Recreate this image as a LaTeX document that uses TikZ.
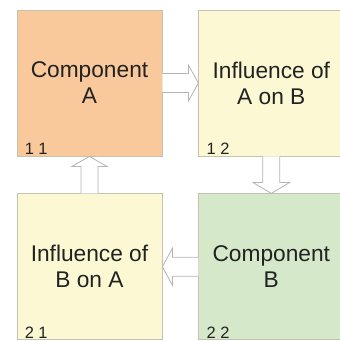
\documentclass[tikz,border=0pt]{standalone}
\usepackage{fontspec}
\setmainfont{Liberation Sans}
\usepackage{xcolor}
\usetikzlibrary{positioning,calc}

\definecolor{compA}{HTML}{F9C89B}
\definecolor{infl}{HTML}{FBF8D3}
\definecolor{compB}{HTML}{D5E8CA}
\definecolor{edge}{HTML}{C4C2B0}
\definecolor{arrgray}{HTML}{B4B4B4}
\definecolor{txt}{HTML}{222222}

\begin{document}
\begin{tikzpicture}[x=1bp,y=-1bp,
  cell/.style={draw=edge,line width=0.8bp,rectangle,minimum width=145bp,minimum height=146bp,align=center,text=txt,font=\fontsize{22.8}{26}\selectfont,inner sep=0pt},
  idx/.style={anchor=south west,text=txt,font=\fontsize{16.5}{18}\selectfont,inner sep=0pt},
  blkarrow/.style={draw=arrgray,fill=white,line width=0.8bp,line join=miter}]
  \useasboundingbox (0,0) rectangle (340,341);

  % Top row
\node[cell,fill=compA] (compa) at (89.5,83) {Component\\A};
\node[cell,fill=infl,right=36bp of compa] (inflab) {Influence of\\A on B};

  % Bottom row
\node[cell,fill=infl,below=37bp of compa] (inflba) {Influence of\\B on A};
\node[cell,fill=compB,right=36bp of inflba] (compb) {Component\\B};

  % Cell indices
\node[idx] at ($(compa.south west)+(8,-2)$) {1 1};
\node[idx] at ($(inflab.south west)+(8,-2)$) {1 2};
\node[idx] at ($(inflba.south west)+(8,-2)$) {2 1};
\node[idx] at ($(compb.south west)+(8,-2)$) {2 2};

  % Block arrows
  \draw[blkarrow] ($(compa.east)+(0,-9.5)$) -- ($(inflab.west)+(-10,-9.5)$) -- ($(inflab.west)+(-10,-18)$) -- (inflab.west) -- ($(inflab.west)+(-10,18)$) -- ($(inflab.west)+(-10,9.5)$) -- ($(compa.east)+(0,9.5)$);
  \draw[blkarrow] ($(inflab.south)+(-8.5,0)$) -- ($(compb.north)+(-8.5,-11)$) -- ($(compb.north)+(-18.5,-11)$) -- (compb.north) -- ($(compb.north)+(18.5,-11)$) -- ($(compb.north)+(8.5,-11)$) -- ($(inflab.south)+(8.5,0)$);
  \draw[blkarrow] ($(compb.west)+(0,-9.5)$) -- ($(inflba.east)+(10,-9.5)$) -- ($(inflba.east)+(10,-18.5)$) -- (inflba.east) -- ($(inflba.east)+(10,18.5)$) -- ($(inflba.east)+(10,9.5)$) -- ($(compb.west)+(0,9.5)$);
  \draw[blkarrow] ($(inflba.north)+(-8.5,0)$) -- ($(compa.south)+(-8.5,10)$) -- ($(compa.south)+(-17.5,10)$) -- (compa.south) -- ($(compa.south)+(17.5,10)$) -- ($(compa.south)+(8.5,10)$) -- ($(inflba.north)+(8.5,0)$);
\end{tikzpicture}
\end{document}
